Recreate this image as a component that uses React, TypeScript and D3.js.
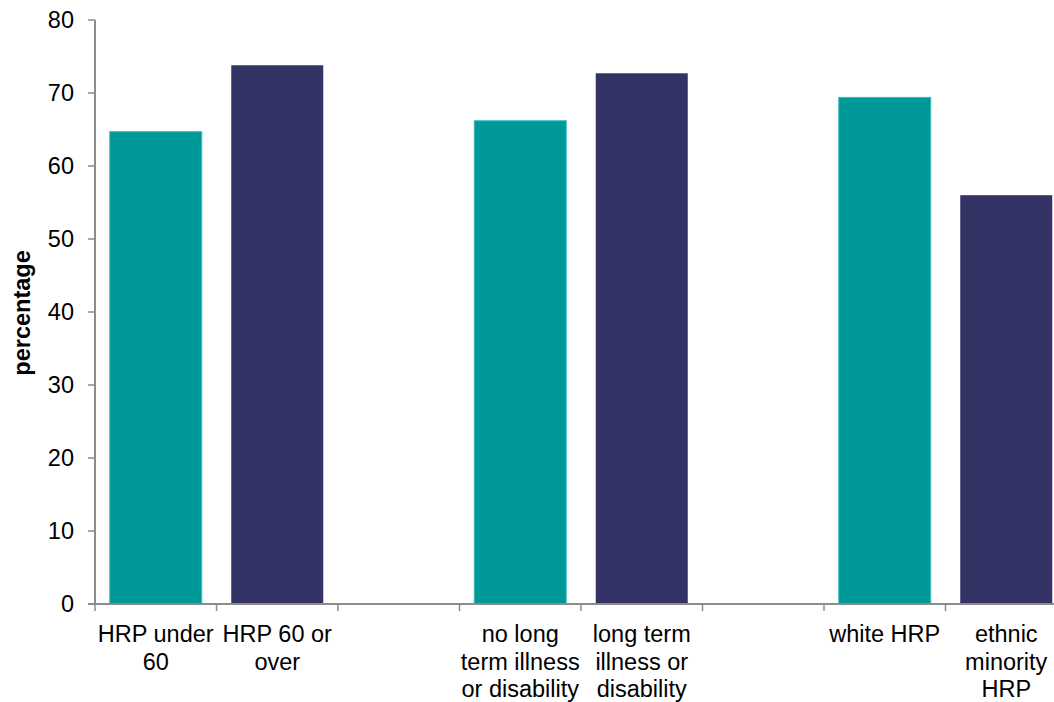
import React from "react";
import * as d3 from "d3";

const slots = ["HRP under\n60", "HRP 60 or\nover", "gap1", "no long\nterm illness\nor disability", "long term\nillness or\ndisability", "gap2", "white HRP", "ethnic\nminority\nHRP"];
const values: (number | null)[] = [64.7, 73.8, null, 66.2, 72.7, null, 69.4, 56.0];
const colors = ["#009999", "#333366", "none", "#009999", "#333366", "none", "#009999", "#333366"];
const yTicks = [0, 10, 20, 30, 40, 50, 60, 70, 80];

export default function App() {
  const W = 1054, H = 702;
  const left = 95, right = 95 + 8 * 121.5, top = 20, bottom = 604;
  const xs = d3.scaleBand<string>().domain(slots).range([left, right]);
  const y = d3.scaleLinear().domain([0, 80]).range([bottom, top]);
  const axisColor = "#8c8c8c";
  const font = "Arial, 'Liberation Sans', sans-serif";
  return (
    <svg width={W} height={H} style={{ position: "absolute", left: 0, top: 0, background: "#fff" }}>
      {slots.map((s, i) => {
        const v = values[i];
        if (v == null) return null;
        const bx = xs(s)! + (xs.bandwidth() - 92) / 2;
        return (
          <rect key={s} x={bx} y={y(v)} width={92} height={y(0) - y(v)} fill={colors[i]}
            stroke={colors[i] === "#009999" ? "#3fb8b8" : "none"} strokeWidth={1} />
        );
      })}
      <line x1={left} x2={left} y1={top} y2={bottom} stroke={axisColor} strokeWidth={2} />
      {yTicks.map(t => (
        <g key={t}>
          <line x1={left - 7} x2={left} y1={y(t)} y2={y(t)} stroke={axisColor} strokeWidth={1.5} />
          <text x={74} y={y(t)} dy="0.35em" textAnchor="end" fontFamily={font} fontSize={23.5} fill="#000">{t}</text>
        </g>
      ))}
      <line x1={left - 7} x2={W} y1={bottom} y2={bottom} stroke={axisColor} strokeWidth={2} />
      {d3.range(slots.length + 1).map(i => {
        const tx = left + i * xs.step();
        return <line key={i} x1={tx} x2={tx} y1={bottom} y2={bottom + 7} stroke={axisColor} strokeWidth={1.5} />;
      })}
      {slots.map((s, i) => {
        if (values[i] == null) return null;
        const cx = xs(s)! + xs.bandwidth() / 2;
        return (
          <text key={s} textAnchor="middle" fontFamily={font} fontSize={23.5} fill="#000">
            {s.split("\n").map((ln, j) => (
              <tspan key={j} x={cx} y={642 + j * 27.5}>{ln}</tspan>
            ))}
          </text>
        );
      })}
      <text transform={`translate(30,313) rotate(-90)`} textAnchor="middle" fontFamily={font} fontSize={23.5} fontWeight="bold" fill="#000">percentage</text>
    </svg>
  );
}
